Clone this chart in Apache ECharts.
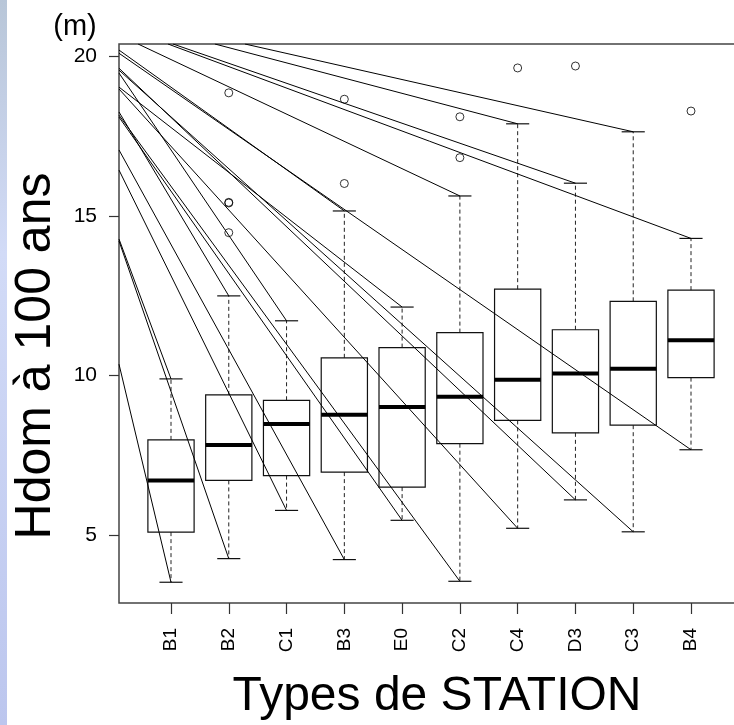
<!DOCTYPE html>
<html>
<head>
<meta charset="utf-8">
<script src="https://cdn.jsdelivr.net/npm/echarts@6/dist/echarts.min.js"></script>
<style>
  html, body { margin: 0; padding: 0; background: #fff; }
  #chart { width: 734px; height: 725px; }
</style>
</head>
<body>
<div id="chart"></div>
<script>
// stations, in plotted order
var categories = ['B1', 'B2', 'C1', 'B3', 'E0', 'C2', 'C4', 'D3', 'C3', 'B4'];
// box statistics (m)
var lowWhisker  = [3.52, 4.26, 5.77, 4.23, 5.46, 3.55, 5.21, 6.10, 5.10, 7.67];
var q1          = [5.09, 6.71, 6.86, 6.97, 6.50, 7.86, 8.59, 8.20, 8.44, 9.93];
var median      = [6.71, 7.82, 8.48, 8.77, 9.01, 9.33, 9.86, 10.06, 10.21, 11.10];
var q3          = [7.98, 9.39, 9.22, 10.55, 10.87, 11.34, 12.70, 11.43, 12.32, 12.67];
var highWhisker = [9.89, 12.49, 11.71, 15.15, 12.14, 15.62, 17.88, 16.02, 17.63, 14.29];
// outliers
var outlierCat = ['B2', 'B2', 'B2', 'B2', 'B3', 'B3', 'C2', 'C2', 'C4', 'D3', 'B4'];
var outlierVal = [18.85, 15.42, 15.40, 14.47, 18.65, 16.01, 18.10, 16.82, 19.63, 19.69, 18.28];
// straight lines reaching each whisker end, where they enter the plot (x in station units)
var upLeadX  = [0.1, 0.1, 0.1, 0.1, 0.1, 0.43, 1.76, 1.035, 2.28, 0.948];
var upLeadY  = [14.27, 18.25, 19.47, 20.19, 19.03, 20.38, 20.38, 20.38, 20.38, 20.38];
var lowLeadX = [0.1, 0.1, 0.1, 0.1, 0.1, 0.1, 0.1, 0.1, 0.1, 0.1];
var lowLeadY = [10.35, 14.21, 16.43, 17.06, 18.09, 18.15, 18.97, 19.62, 19.56, 20.09];
var yTicks = [5, 10, 15, 20];

var catPos = categories.map(function (c, i) { return i + 1; });
var font = 'Liberation Sans, Arial, sans-serif';

var boxData = categories.map(function (c, i) {
  return [i + 1, lowWhisker[i], q1[i], median[i], q3[i], highWhisker[i]];
});

var leadData = [];
for (var i = 0; i < categories.length; i++) {
  leadData.push({ coords: [[upLeadX[i], upLeadY[i]], [i + 1, highWhisker[i]]] });
  leadData.push({ coords: [[lowLeadX[i], lowLeadY[i]], [i + 1, lowWhisker[i]]] });
}

var outlierData = outlierCat.map(function (c, i) {
  return [categories.indexOf(c) + 1, outlierVal[i]];
});

function renderBox(params, api) {
  var x = api.value(0);
  var lo = api.coord([x, api.value(1)]);
  var b1 = api.coord([x, api.value(2)]);
  var md = api.coord([x, api.value(3)]);
  var b3 = api.coord([x, api.value(4)]);
  var hi = api.coord([x, api.value(5)]);
  var bw = api.size([0.8, 0])[0];
  var cw = api.size([0.4, 0])[0];
  var cx = md[0];
  var dash = { stroke: '#222', lineWidth: 1, lineDash: [4, 3] };
  var solid = { stroke: '#111', lineWidth: 1.2 };
  return {
    type: 'group',
    children: [
      { type: 'line', shape: { x1: cx, y1: b3[1], x2: cx, y2: hi[1] }, style: dash },
      { type: 'line', shape: { x1: cx, y1: b1[1], x2: cx, y2: lo[1] }, style: dash },
      { type: 'line', shape: { x1: cx - cw / 2, y1: hi[1], x2: cx + cw / 2, y2: hi[1] }, style: solid },
      { type: 'line', shape: { x1: cx - cw / 2, y1: lo[1], x2: cx + cw / 2, y2: lo[1] }, style: solid },
      { type: 'rect', shape: { x: cx - bw / 2, y: b3[1], width: bw, height: b1[1] - b3[1] },
        style: { fill: 'none', stroke: '#111', lineWidth: 1.2 } },
      { type: 'line', shape: { x1: cx - bw / 2, y1: md[1], x2: cx + bw / 2, y2: md[1] },
        style: { stroke: '#000', lineWidth: 4 } }
    ]
  };
}

var myChart = echarts.init(document.getElementById('chart'));
var option = {
  backgroundColor: '#fff',
  animation: false,
  grid: {
    left: 119, top: 44, width: 624, height: 559,
    show: true, borderColor: '#444', borderWidth: 1.5,
    containLabel: false, outerBoundsMode: 'none'
  },
  xAxis: {
    type: 'value', min: 0.1, max: 10.9,
    axisLine: { show: false },
    splitLine: { show: false },
    axisTick: { show: true, customValues: catPos, length: 11, lineStyle: { color: '#333', width: 1.2 } },
    axisLabel: {
      customValues: catPos, rotate: 90, margin: 25,
      fontSize: 19, color: '#000', fontFamily: font,
      formatter: function (v) { return categories[Math.round(v) - 1]; }
    }
  },
  yAxis: {
    type: 'value', min: 2.87, max: 20.38,
    axisLine: { show: false },
    splitLine: { show: false },
    axisTick: { show: true, customValues: yTicks, length: 10, lineStyle: { color: '#333', width: 1.2 } },
    axisLabel: { customValues: yTicks, margin: 22, fontSize: 21, color: '#000', fontFamily: font }
  },
  graphic: [
    { type: 'rect', left: 0, top: 0, shape: { width: 7, height: 725 },
      style: { fill: new echarts.graphic.LinearGradient(0, 0, 0, 1, [
        { offset: 0, color: '#b8c6d8' },
        { offset: 0.35, color: '#d2dbf7' },
        { offset: 1, color: '#bcc6ee' }
      ]) } },
    { type: 'text', x: 75, y: 27,
      style: { text: '(m)', font: '29px ' + font, fill: '#000', textAlign: 'center', textVerticalAlign: 'middle' } },
    { type: 'text', x: 36, y: 356, rotation: Math.PI / 2,
      style: { text: 'Hdom à 100 ans', font: '50px ' + font, fill: '#000', textAlign: 'center', textVerticalAlign: 'middle' } },
    { type: 'text', x: 437, y: 697,
      style: { text: 'Types de STATION', font: '48px ' + font, fill: '#000', textAlign: 'center', textVerticalAlign: 'middle' } }
  ],
  series: [
    {
      type: 'custom',
      renderItem: renderBox,
      encode: { x: 0, y: [1, 2, 3, 4, 5] },
      data: boxData,
      silent: true,
      z: 2
    },
    {
      type: 'lines',
      coordinateSystem: 'cartesian2d',
      data: leadData,
      lineStyle: { color: '#000', width: 1, opacity: 1 },
      silent: true,
      z: 3
    },
    {
      type: 'scatter',
      data: outlierData,
      symbol: 'circle',
      symbolSize: 8,
      itemStyle: { color: 'rgba(0,0,0,0)', borderColor: '#000', borderWidth: 1 },
      silent: true,
      z: 4
    }
  ]
};
myChart.setOption(option);
</script>
</body>
</html>
